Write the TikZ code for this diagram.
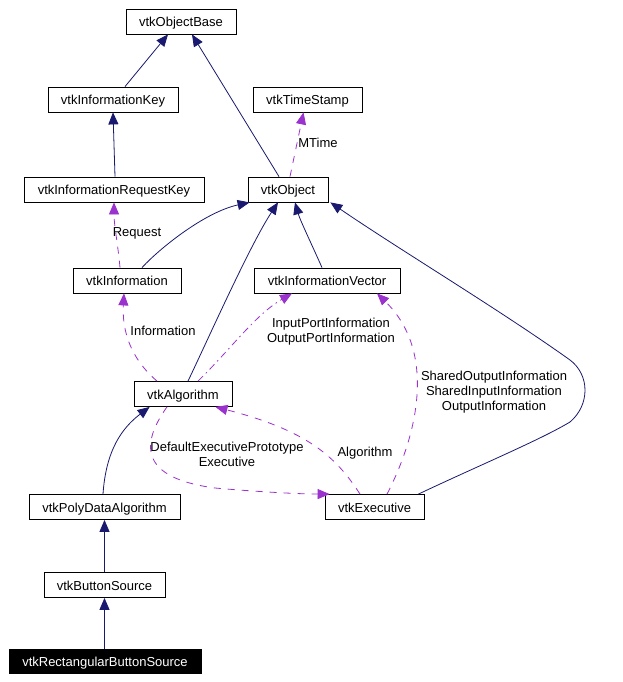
\documentclass[tikz,border=0pt]{standalone}
\usepackage{fontspec}
\setmainfont{Liberation Sans}
\usetikzlibrary{arrows.meta}
\definecolor{navy}{HTML}{191970}
\definecolor{orchid}{HTML}{9A32CD}
\begin{document}
\begin{tikzpicture}[x=1pt,y=-1pt,
  cls/.style={draw=black,line width=0.8pt,inner sep=0pt,minimum height=25pt,text height=10pt,text depth=0pt,font=\fontsize{13pt}{15pt}\selectfont},
  inh/.style={draw=navy,line width=0.8pt,-{Triangle[length=12pt,width=10pt]},color=navy},
  use/.style={draw=orchid,line width=0.8pt,dash pattern=on 7pt off 7pt,-{Triangle[length=12pt,width=10pt]},color=orchid},
  usedot/.style={draw=orchid,line width=0.8pt,dash pattern=on 7pt off 4pt on 1.5pt off 4pt,-{Triangle[length=12pt,width=10pt]},color=orchid},
  lbl/.style={inner sep=0pt,align=center,font=\fontsize{13pt}{15pt}\selectfont,text=black}]
\useasboundingbox (0,0) rectangle (623,682);
\fill[white] (0,0) rectangle (623,682);

\node[cls,minimum width=110pt] (objbase) at (181,21.5) {vtkObjectBase};
\node[cls,minimum width=130pt] (infokey) at (113,99.5) {vtkInformationKey};
\node[cls,minimum width=109pt] (timestamp) at (307.5,99.5) {vtkTimeStamp};
\node[cls,minimum width=180pt] (inforeqkey) at (114,189.5) {vtkInformationRequestKey};
\node[cls,minimum width=80pt] (object) at (288,189.5) {vtkObject};
\node[cls,minimum width=108pt] (information) at (127,280.5) {vtkInformation};
\node[cls,minimum width=146pt] (infovector) at (327,280.5) {vtkInformationVector};
\node[cls,minimum width=98pt] (algorithm) at (183,394) {vtkAlgorithm};
\node[cls,minimum width=151pt] (polydata) at (104.5,507) {vtkPolyDataAlgorithm};
\node[cls,minimum width=99pt] (executive) at (374.5,507) {vtkExecutive};
\node[cls,minimum width=121pt] (buttonsource) at (104.5,585) {vtkButtonSource};
\node[cls,minimum width=192pt,minimum height=24pt,fill=black,text=white] (rectbutton) at (105,661.5) {vtkRectangularButtonSource};

% inheritance / solid
\draw[inh] ([xshift=12pt]infokey.north) -- ([xshift=-13pt]objbase.south);
\draw[inh] ([xshift=-9pt]object.north) -- ([xshift=11pt]objbase.south);
\draw[inh] ([xshift=1pt]inforeqkey.north) -- (infokey.south);
\draw[inh] ([xshift=15pt]information.north) .. controls (160,248) and (205,212) .. ([xshift=2pt]object.south west);
\draw[inh] ([xshift=5pt]algorithm.north) .. controls (210,335) and (250,245) .. ([xshift=-10pt]object.south);
\draw[inh] ([xshift=-5pt]infovector.north) .. controls (312,245) and (300,220) .. ([xshift=7pt]object.south);
\draw[inh] ([xshift=-6pt]executive.north east) .. controls (480,465) and (540,440) .. (570,422)
   .. controls (590,405) and (590,375) .. (570,360) .. controls (500,310) and (400,250) .. ([xshift=2pt]object.south east);
\draw[inh] ([xshift=-1.5pt]polydata.north) .. controls (106,450) and (122,428) .. ([xshift=16pt]algorithm.south west);
\draw[inh] (buttonsource.north) -- (polydata.south);
\draw[inh] ([xshift=-0.5pt]rectbutton.north) -- (buttonsource.south);

% usage / dashed
\draw[use] ([xshift=2pt]object.north) -- ([xshift=-4pt]timestamp.south);
\node[lbl] (lmtime) at (318,143) {MTime};
\draw[use] ([xshift=-7pt]information.north) .. controls (118,245) and (114,225) .. (inforeqkey.south);
\node[lbl] (lreq) at (137,233) {Request};
\draw[use] ([xshift=-26pt]algorithm.north) .. controls (130,358) and (122,330) .. ([xshift=-3pt]information.south);
\node[lbl] (linfo) at (163,331) {Information};
\draw[usedot] ([xshift=15pt]algorithm.north) .. controls (230,350) and (255,315) .. ([xshift=-35pt]infovector.south);
\node[lbl] (lport) at (331,331.5) {InputPortInformation\\OutputPortInformation};
\draw[use] ([xshift=12.5pt]executive.north) .. controls (420,430) and (435,350) .. ([xshift=50pt]infovector.south);
\node[lbl] (lshared) at (494,392.5) {SharedOutputInformation\\SharedInputInformation\\OutputInformation};
\draw[use] ([xshift=-14.5pt]executive.north) .. controls (335,455) and (305,430) .. ([xshift=-17pt]algorithm.south east);
\node[lbl] (lalg) at (365,453) {Algorithm};
\draw[use] ([xshift=-16pt]algorithm.south) .. controls (140,445) and (140,478) .. (215,488)
   .. controls (260,492) and (300,494) .. ([xshift=5pt]executive.north west);
\node[lbl] (ldef) at (227,454) {DefaultExecutivePrototype\\Executive};
\end{tikzpicture}
\end{document}
